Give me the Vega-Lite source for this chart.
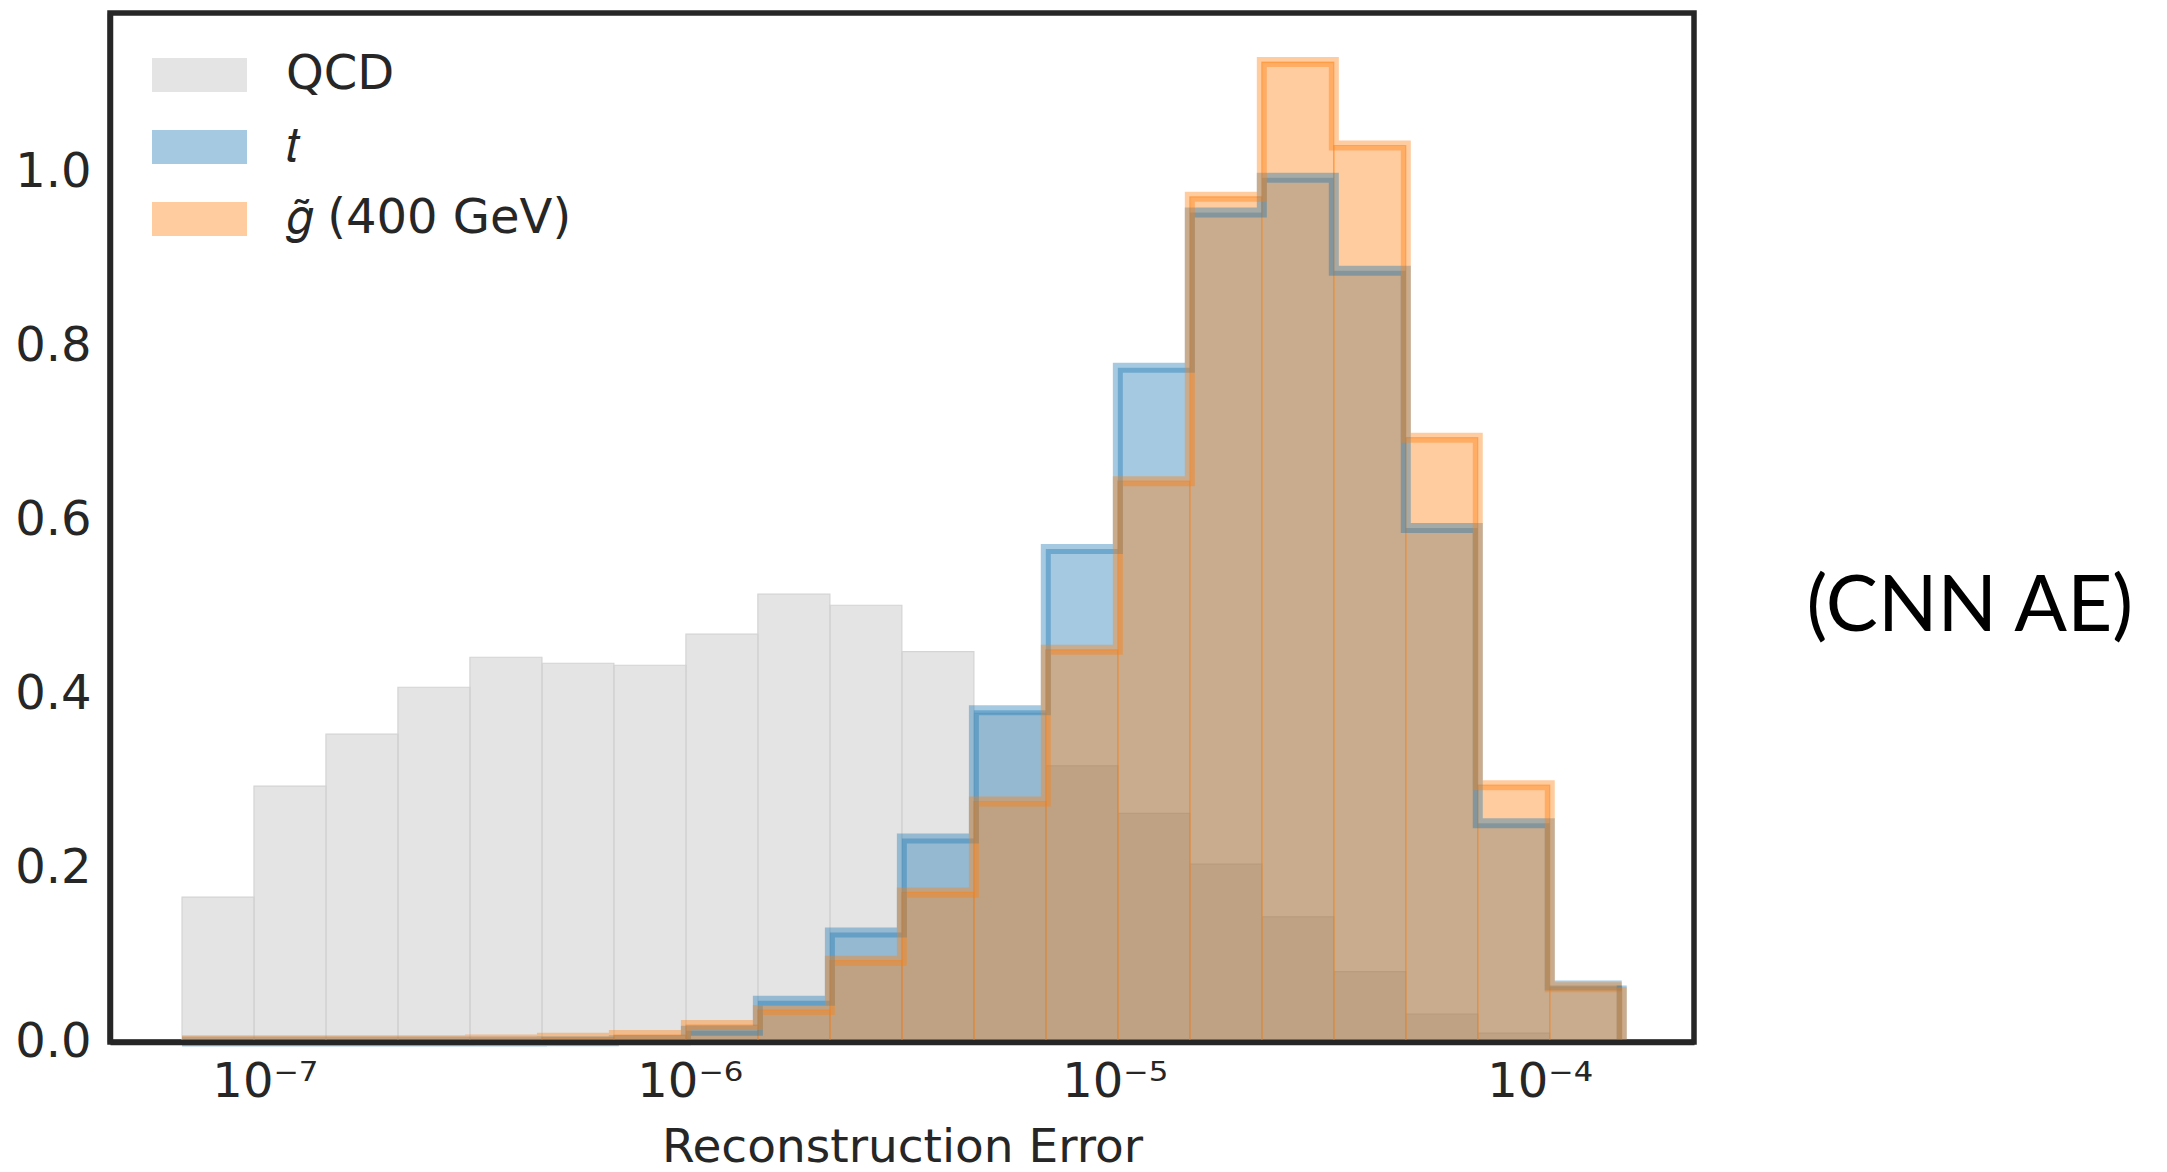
{
  "$schema": "https://vega.github.io/schema/vega-lite/v6.json",
  "width": 1584,
  "height": 1029,
  "autosize": {"type": "none"},
  "padding": {"left": 110, "top": 13, "right": 473, "bottom": 130},
  "background": "white",
  "config": {
    "view": {"stroke": "#262626", "strokeWidth": 5.5},
    "font": "DejaVu Sans"
  },
  "title": {
    "text": "(CNN AE)",
    "orient": "right",
    "angle": 0,
    "anchor": "middle",
    "align": "right",
    "baseline": "alphabetic",
    "offset": 110,
    "dy": 103,
    "font": "Lato",
    "fontSize": 78,
    "fontWeight": "normal",
    "color": "#000000"
  },
  "datasets": {
    "hist": [
      {"series": "QCD", "bin": 0, "x0": 6.390e-8, "x1": 9.436e-8, "h": 0.1667},
      {"series": "QCD", "bin": 1, "x0": 9.436e-8, "x1": 1.3935e-7, "h": 0.2943},
      {"series": "QCD", "bin": 2, "x0": 1.3935e-7, "x1": 2.0586e-7, "h": 0.354},
      {"series": "QCD", "bin": 3, "x0": 2.0586e-7, "x1": 3.0409e-7, "h": 0.408},
      {"series": "QCD", "bin": 4, "x0": 3.0409e-7, "x1": 4.4913e-7, "h": 0.4425},
      {"series": "QCD", "bin": 5, "x0": 4.4913e-7, "x1": 6.6328e-7, "h": 0.4356},
      {"series": "QCD", "bin": 6, "x0": 6.6328e-7, "x1": 9.7994e-7, "h": 0.4333},
      {"series": "QCD", "bin": 7, "x0": 9.7994e-7, "x1": 1.4472e-6, "h": 0.469},
      {"series": "QCD", "bin": 8, "x0": 1.4472e-6, "x1": 2.1380e-6, "h": 0.515},
      {"series": "QCD", "bin": 9, "x0": 2.1380e-6, "x1": 3.1579e-6, "h": 0.5023},
      {"series": "QCD", "bin": 10, "x0": 3.1579e-6, "x1": 4.6654e-6, "h": 0.449},
      {"series": "QCD", "bin": 11, "x0": 4.6654e-6, "x1": 6.8883e-6, "h": 0.378},
      {"series": "QCD", "bin": 12, "x0": 6.8883e-6, "x1": 1.0177e-5, "h": 0.3176},
      {"series": "QCD", "bin": 13, "x0": 1.0177e-5, "x1": 1.5031e-5, "h": 0.263},
      {"series": "QCD", "bin": 14, "x0": 1.5031e-5, "x1": 2.2203e-5, "h": 0.2046},
      {"series": "QCD", "bin": 15, "x0": 2.2203e-5, "x1": 3.2799e-5, "h": 0.144},
      {"series": "QCD", "bin": 16, "x0": 3.2799e-5, "x1": 4.8442e-5, "h": 0.081},
      {"series": "QCD", "bin": 17, "x0": 4.8442e-5, "x1": 7.1548e-5, "h": 0.032},
      {"series": "QCD", "bin": 18, "x0": 7.1548e-5, "x1": 1.0568e-4, "h": 0.0103},
      {"series": "QCD", "bin": 19, "x0": 1.0568e-4, "x1": 1.5608e-4, "h": 0.002},

      {"series": "t", "bin": 0, "x0": 6.390e-8, "x1": 9.436e-8, "h": 0.0005},
      {"series": "t", "bin": 1, "x0": 9.436e-8, "x1": 1.3935e-7, "h": 0.0005},
      {"series": "t", "bin": 2, "x0": 1.3935e-7, "x1": 2.0586e-7, "h": 0.0005},
      {"series": "t", "bin": 3, "x0": 2.0586e-7, "x1": 3.0409e-7, "h": 0.0005},
      {"series": "t", "bin": 4, "x0": 3.0409e-7, "x1": 4.4913e-7, "h": 0.0005},
      {"series": "t", "bin": 5, "x0": 4.4913e-7, "x1": 6.6328e-7, "h": 0.001},
      {"series": "t", "bin": 6, "x0": 6.6328e-7, "x1": 9.7994e-7, "h": 0.002},
      {"series": "t", "bin": 7, "x0": 9.7994e-7, "x1": 1.4472e-6, "h": 0.013},
      {"series": "t", "bin": 8, "x0": 1.4472e-6, "x1": 2.1380e-6, "h": 0.0475},
      {"series": "t", "bin": 9, "x0": 2.1380e-6, "x1": 3.1579e-6, "h": 0.126},
      {"series": "t", "bin": 10, "x0": 3.1579e-6, "x1": 4.6654e-6, "h": 0.234},
      {"series": "t", "bin": 11, "x0": 4.6654e-6, "x1": 6.8883e-6, "h": 0.3816},
      {"series": "t", "bin": 12, "x0": 6.8883e-6, "x1": 1.0177e-5, "h": 0.567},
      {"series": "t", "bin": 13, "x0": 1.0177e-5, "x1": 1.5031e-5, "h": 0.7755},
      {"series": "t", "bin": 14, "x0": 1.5031e-5, "x1": 2.2203e-5, "h": 0.954},
      {"series": "t", "bin": 15, "x0": 2.2203e-5, "x1": 3.2799e-5, "h": 0.994},
      {"series": "t", "bin": 16, "x0": 3.2799e-5, "x1": 4.8442e-5, "h": 0.887},
      {"series": "t", "bin": 17, "x0": 4.8442e-5, "x1": 7.1548e-5, "h": 0.591},
      {"series": "t", "bin": 18, "x0": 7.1548e-5, "x1": 1.0568e-4, "h": 0.2517},
      {"series": "t", "bin": 19, "x0": 1.0568e-4, "x1": 1.5608e-4, "h": 0.065},

      {"series": "gluino", "bin": 0, "x0": 6.390e-8, "x1": 9.436e-8, "h": 0.002},
      {"series": "gluino", "bin": 1, "x0": 9.436e-8, "x1": 1.3935e-7, "h": 0.002},
      {"series": "gluino", "bin": 2, "x0": 1.3935e-7, "x1": 2.0586e-7, "h": 0.002},
      {"series": "gluino", "bin": 3, "x0": 2.0586e-7, "x1": 3.0409e-7, "h": 0.002},
      {"series": "gluino", "bin": 4, "x0": 3.0409e-7, "x1": 4.4913e-7, "h": 0.003},
      {"series": "gluino", "bin": 5, "x0": 4.4913e-7, "x1": 6.6328e-7, "h": 0.005},
      {"series": "gluino", "bin": 6, "x0": 6.6328e-7, "x1": 9.7994e-7, "h": 0.008},
      {"series": "gluino", "bin": 7, "x0": 9.7994e-7, "x1": 1.4472e-6, "h": 0.0195},
      {"series": "gluino", "bin": 8, "x0": 1.4472e-6, "x1": 2.1380e-6, "h": 0.0368},
      {"series": "gluino", "bin": 9, "x0": 2.1380e-6, "x1": 3.1579e-6, "h": 0.0935},
      {"series": "gluino", "bin": 10, "x0": 3.1579e-6, "x1": 4.6654e-6, "h": 0.172},
      {"series": "gluino", "bin": 11, "x0": 4.6654e-6, "x1": 6.8883e-6, "h": 0.2766},
      {"series": "gluino", "bin": 12, "x0": 6.8883e-6, "x1": 1.0177e-5, "h": 0.451},
      {"series": "gluino", "bin": 13, "x0": 1.0177e-5, "x1": 1.5031e-5, "h": 0.645},
      {"series": "gluino", "bin": 14, "x0": 1.5031e-5, "x1": 2.2203e-5, "h": 0.972},
      {"series": "gluino", "bin": 15, "x0": 2.2203e-5, "x1": 3.2799e-5, "h": 1.127},
      {"series": "gluino", "bin": 16, "x0": 3.2799e-5, "x1": 4.8442e-5, "h": 1.031},
      {"series": "gluino", "bin": 17, "x0": 4.8442e-5, "x1": 7.1548e-5, "h": 0.695},
      {"series": "gluino", "bin": 18, "x0": 7.1548e-5, "x1": 1.0568e-4, "h": 0.2954},
      {"series": "gluino", "bin": 19, "x0": 1.0568e-4, "x1": 1.5608e-4, "h": 0.063}
    ]
  },
  "data": {"name": "hist"},
  "layer": [
    {
      "transform": [{"filter": "datum.series == 'QCD'"}],
      "mark": {"type": "rect", "fillOpacity": 0.4, "stroke": "#d4d4d4", "strokeWidth": 1.2},
      "encoding": {
        "x": {
          "field": "x0", "type": "quantitative",
          "scale": {"type": "log", "domain": [4.325e-8, 2.309e-4], "nice": false},
          "axis": {
            "values": [1e-7, 1e-6, 1e-5, 1e-4],
            "labelExpr": "datum.value < 5e-7 ? '10⁻⁷' : datum.value < 5e-6 ? '10⁻⁶' : datum.value < 5e-5 ? '10⁻⁵' : '10⁻⁴'",
            "title": "Reconstruction Error",
            "grid": false, "ticks": false, "tickSize": 0,
            "labelPadding": 16, "labelFontSize": 48, "labelColor": "#262626",
            "labelFont": "DejaVu Sans", "labelFlush": false, "labelOverlap": false,
            "titleFont": "DejaVu Sans", "titleFontSize": 47, "titleFontWeight": "normal",
            "titleColor": "#262626", "titlePadding": 18,
            "domain": true, "domainColor": "#262626", "domainWidth": 5.5, "zindex": 1
          }
        },
        "x2": {"field": "x1"},
        "y": {
          "field": "h", "type": "quantitative",
          "scale": {"domain": [0, 1.1834], "nice": false, "zero": true},
          "axis": {
            "values": [0, 0.2, 0.4, 0.6, 0.8, 1.0],
            "format": ".1f",
            "title": null,
            "grid": false, "ticks": false, "tickSize": 0,
            "labelPadding": 19, "labelFontSize": 48, "labelColor": "#262626",
            "labelFont": "DejaVu Sans", "labelFlush": false,
            "domain": true, "domainColor": "#262626", "domainWidth": 5.5, "zindex": 1
          }
        },
        "y2": {"datum": 0},
        "color": {
          "field": "series", "type": "nominal",
          "scale": {"domain": ["QCD", "t", "gluino"], "range": ["#bbbbbb", "#1f77b4", "#ff7f0e"]},
          "legend": {
            "orient": "none",
            "legendX": 35,
            "legendY": 38,
            "direction": "vertical",
            "title": null,
            "padding": 0,
            "labelFontSize": 48,
            "labelFont": "DejaVu Sans",
            "labelColor": "#262626",
            "labelLimit": 0,
            "labelOffset": 93,
            "rowPadding": 24,
            "symbolType": "M-1,-1H4.588V1H-1Z",
            "symbolSize": 1156,
            "symbolOpacity": 0.4,
            "symbolStrokeWidth": 0,
            "labelExpr": "datum.label == 't' ? '𝑡' : datum.label == 'gluino' ? '𝑔̃ (400 GeV)' : datum.label"
          }
        }
      }
    },
    {
      "transform": [{"filter": "datum.series == 't'"}],
      "mark": {"type": "rect", "fillOpacity": 0.4},
      "encoding": {
        "x": {"field": "x0", "type": "quantitative"},
        "x2": {"field": "x1"},
        "y": {"field": "h", "type": "quantitative"},
        "y2": {"datum": 0},
        "color": {"field": "series", "type": "nominal"}
      }
    },
    {
      "transform": [{"filter": "datum.series == 'gluino'"}],
      "mark": {"type": "rect", "fillOpacity": 0.4, "stroke": "#ff7f0e", "strokeWidth": 1.2, "strokeOpacity": 0.45},
      "encoding": {
        "x": {"field": "x0", "type": "quantitative"},
        "x2": {"field": "x1"},
        "y": {"field": "h", "type": "quantitative"},
        "y2": {"datum": 0},
        "color": {"field": "series", "type": "nominal"}
      }
    },
    {
      "transform": [
        {"filter": "datum.series == 't'"},
        {"fold": ["x0", "x1"], "as": ["edge", "xv"]}
      ],
      "mark": {"type": "line", "color": "#1f77b4", "strokeWidth": 10, "strokeOpacity": 0.4, "strokeJoin": "miter", "strokeCap": "butt"},
      "encoding": {
        "x": {"field": "xv", "type": "quantitative"},
        "y": {"field": "h", "type": "quantitative"},
        "order": [
          {"field": "xv", "type": "quantitative"},
          {"field": "edge", "type": "ordinal", "sort": "descending"}
        ]
      }
    },
    {
      "transform": [
        {"filter": "datum.series == 'gluino'"},
        {"fold": ["x0", "x1"], "as": ["edge", "xv"]}
      ],
      "mark": {"type": "line", "color": "#ff7f0e", "strokeWidth": 10, "strokeOpacity": 0.4, "strokeJoin": "miter", "strokeCap": "butt"},
      "encoding": {
        "x": {"field": "xv", "type": "quantitative"},
        "y": {"field": "h", "type": "quantitative"},
        "order": [
          {"field": "xv", "type": "quantitative"},
          {"field": "edge", "type": "ordinal", "sort": "descending"}
        ]
      }
    },
    {
      "transform": [{"filter": "datum.series == 't' && datum.bin == 19"}],
      "mark": {"type": "rule", "color": "#1f77b4", "strokeWidth": 10, "strokeOpacity": 0.4, "strokeCap": "butt"},
      "encoding": {
        "x": {"field": "x1", "type": "quantitative"},
        "y": {"field": "h", "type": "quantitative"},
        "y2": {"datum": 0}
      }
    },
    {
      "transform": [{"filter": "datum.series == 'gluino' && datum.bin == 19"}],
      "mark": {"type": "rule", "color": "#ff7f0e", "strokeWidth": 10, "strokeOpacity": 0.4, "strokeCap": "butt"},
      "encoding": {
        "x": {"field": "x1", "type": "quantitative"},
        "y": {"field": "h", "type": "quantitative"},
        "y2": {"datum": 0}
      }
    }
  ]
}
